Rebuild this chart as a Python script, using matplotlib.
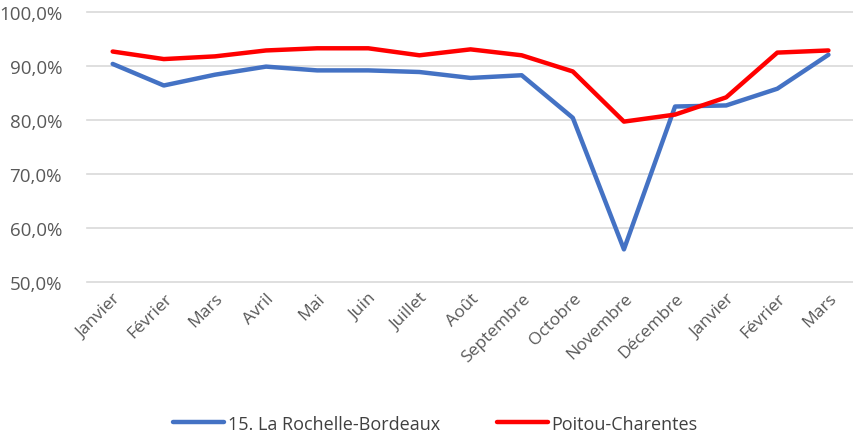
import matplotlib.pyplot as plt
from matplotlib.ticker import FuncFormatter

mois = ["Janvier", "Février", "Mars", "Avril", "Mai", "Juin", "Juillet", "Août",
        "Septembre", "Octobre", "Novembre", "Décembre", "Janvier", "Février", "Mars"]

# taux en %
rochelle_bordeaux = [90.4, 86.4, 88.4, 89.9, 89.2, 89.2, 88.9, 87.8,
                     88.3, 80.4, 56.0, 82.5, 82.7, 85.8, 92.1]
poitou_charentes = [92.7, 91.3, 91.8, 92.9, 93.3, 93.3, 92.0, 93.1,
                    92.0, 89.0, 79.7, 81.0, 84.2, 92.5, 92.9]

plt.rcParams['font.family'] = ['Open Sans', 'DejaVu Sans']

fig = plt.figure(figsize=(8.54, 4.39), dpi=100)
ax = fig.add_axes([0.102, 0.356, 0.898, 0.614])

x = list(range(len(mois)))
ax.plot(x, rochelle_bordeaux, color='#4472C4', lw=3.2, label='15. La Rochelle-Bordeaux',
        solid_capstyle='round', solid_joinstyle='round')
ax.plot(x, poitou_charentes, color='#FF0000', lw=3.2, label='Poitou-Charentes',
        solid_capstyle='round', solid_joinstyle='round')

ax.set_ylim(50, 100)
ax.set_yticks([50, 60, 70, 80, 90, 100])
ax.yaxis.set_major_formatter(FuncFormatter(lambda v, p: f"{v:.1f}%".replace('.', ',')))
ax.set_xlim(-0.5, len(mois) - 0.5)
ax.set_xticks(x)
ax.set_xticklabels(mois, rotation=45, ha='right', rotation_mode='anchor')

ax.grid(axis='y', color='#D9D9D9', lw=1.2)
for gl in ax.get_ygridlines():
    gl.set_clip_on(False)
ax.set_axisbelow(True)
for s in ax.spines.values():
    s.set_visible(False)
ax.tick_params(axis='both', length=0, colors='#595959')
ax.tick_params(axis='y', labelsize=13.5, pad=18)
ax.tick_params(axis='x', labelsize=12.5, pad=6)

fig.legend(loc='lower center', bbox_to_anchor=(0.51, -0.025), ncol=2, frameon=False,
           fontsize=13, labelcolor='#404040', handlelength=2.8, columnspacing=3.2,
           handletextpad=0.2)

fig.savefig("out.png", dpi=100)
